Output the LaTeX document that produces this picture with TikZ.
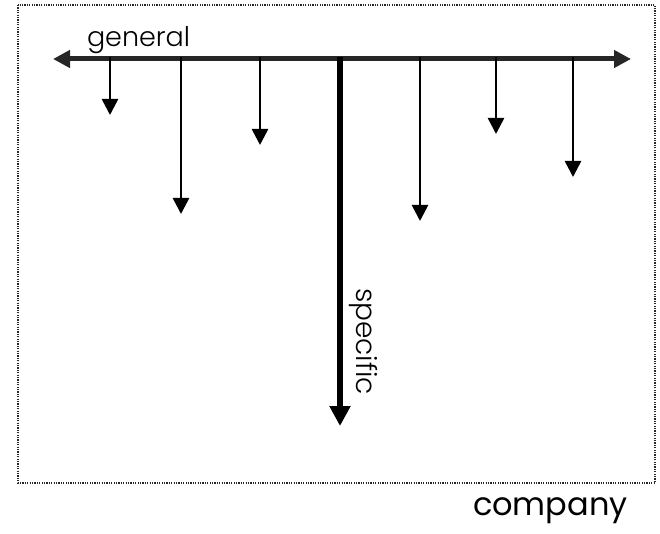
\documentclass[tikz,border=0pt]{standalone}
\usepackage{fontspec}
\setmainfont{Poppins}
\newfontfamily\lightfont{Poppins Light}
\usetikzlibrary{arrows.meta}

\begin{document}
\begin{tikzpicture}[x=1pt, y=-1pt,
        frame/.style = {draw=black!85, line width=1.3pt, dash pattern=on 1.2pt off 1.2pt},
        axis/.style = {draw=black!85, line width=5pt,
                       {Triangle[length=17pt, width=17pt]}-{Triangle[length=17pt, width=17pt]}},
        branch/.style = {draw=black, line width=2.6pt, -{Triangle[length=16pt, width=16pt]}},
        trunk/.style = {draw=black, line width=6pt, -{Triangle[length=20pt, width=20pt]}},
        every node/.style = {inner sep=0pt, outer sep=0pt}]
    \useasboundingbox (0,0) rectangle (660,534);
    \draw[frame] (18,5) rectangle (655,483);

    \coordinate (west) at (53,59);
    \coordinate (east) at (631,59);
    \draw[axis] (west) -- (east);

    % short arrows hanging from the line
    \foreach \name/\x/\y in {a/110/115, b/181/214, c/260/145, d/420/221, e/496/134, f/573/177} {
        \coordinate (\name top) at (\x,57);
        \coordinate (\name end) at (\x,\y);
        \draw[branch] (\name top) -- (\name end);
    }

    \coordinate (mid top) at (340,57);
    \coordinate (mid end) at (340,426);
    \draw[trunk] (mid top) -- (mid end);

    \node[anchor=base west, font=\lightfont\fontsize{27}{27}\selectfont] (general) at (87,47) {general};
    \node[anchor=base west, rotate=-90, font=\lightfont\fontsize{28}{28}\selectfont] (specific) at (356,288) {specific};
    \node[anchor=base west, font=\fontsize{32}{32}\selectfont] (company) at (473,515) {company};
\end{tikzpicture}
\end{document}
